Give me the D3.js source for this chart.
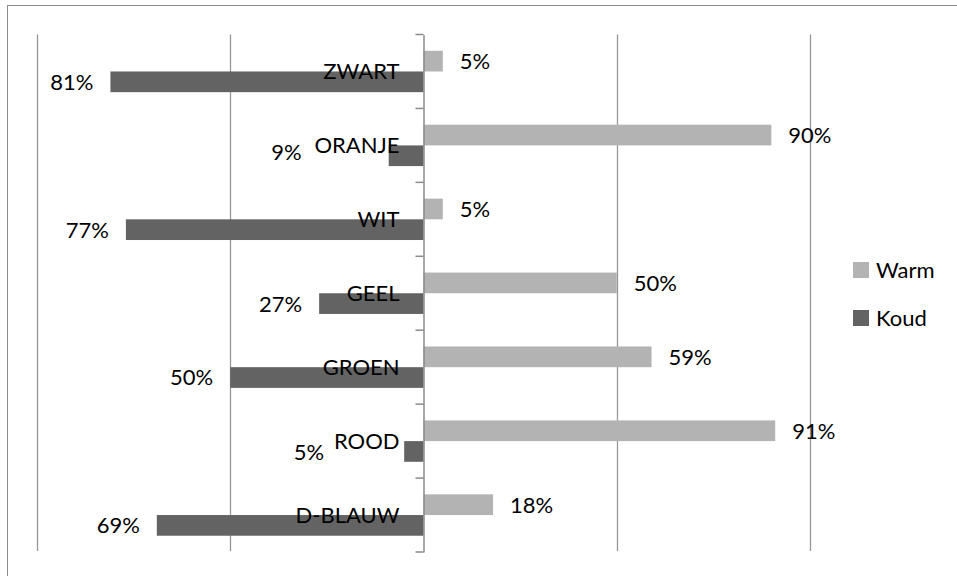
<!DOCTYPE html>
<html>
<head>
<meta charset="utf-8">
<script src="https://cdn.jsdelivr.net/npm/d3@7/dist/d3.min.js"></script>
<style>
  html, body { margin: 0; padding: 0; background: #fff; }
  svg { display: block; }
  text { font-family: Lato, "Open Sans", sans-serif; font-size: 22px; fill: #000; }
</style>
</head>
<body>
<svg id="chart" width="957" height="576"></svg>
<script>
// Colour preference per colour: share answering "warm" vs "koud" (cold)
const categories = ["ZWART", "ORANJE", "WIT", "GEEL", "GROEN", "ROOD", "D-BLAUW"];
const warm = [5, 90, 5, 50, 59, 91, 18];
const koud = [81, 9, 77, 27, 50, 5, 69];
const seriesNames = ["Warm", "Koud"];
const xTicks = [-100, -50, 0, 50, 100];

const colors = { Warm: "#b3b3b3", Koud: "#636363" };

const svg = d3.select("#chart");

// chart frame
svg.append("rect")
  .attr("x", 7.5).attr("y", 5.5)
  .attr("width", 1000).attr("height", 1000)
  .attr("fill", "none").attr("stroke", "#8c8c8c").attr("stroke-width", 1);

const x = d3.scaleLinear().domain([-100, 100]).range([37, 810]);
const y = d3.scaleBand().domain(categories).range([34.5, 552]).padding(0);
const barH = y.bandwidth() * 0.28;

// vertical gridlines
svg.append("g").selectAll("line")
  .data(xTicks.filter(t => t !== 0))
  .join("line")
  .attr("x1", d => Math.round(x(d)) + 0.5).attr("x2", d => Math.round(x(d)) + 0.5)
  .attr("y1", 34.5).attr("y2", 551)
  .attr("stroke", "#989898").attr("stroke-width", 1.3);

const rows = categories.map((c, i) => ({ cat: c, warm: warm[i], koud: koud[i] }));

// warm bars to the right of the axis
svg.append("g").selectAll("rect")
  .data(rows)
  .join("rect")
  .attr("x", x(0))
  .attr("y", d => y(d.cat) + y.bandwidth() / 2 - barH)
  .attr("width", d => x(d.warm) - x(0))
  .attr("height", barH)
  .attr("fill", colors.Warm);

// cold bars to the left of the axis
svg.append("g").selectAll("rect")
  .data(rows)
  .join("rect")
  .attr("x", d => x(-d.koud))
  .attr("y", d => y(d.cat) + y.bandwidth() / 2)
  .attr("width", d => x(0) - x(-d.koud))
  .attr("height", barH)
  .attr("fill", colors.Koud);

// central category axis with ticks at the band edges
const axis = d3.axisLeft(y).tickSize(0).tickFormat("");
const axisG = svg.append("g").attr("transform", `translate(${x(0)},0)`).call(axis);
axisG.select(".domain").attr("stroke", "#8a8a8a").attr("stroke-width", 1.5);
const edges = categories.map(c => y(c)).concat([y.range()[1]]);
axisG.selectAll(".edge")
  .data(edges)
  .join("line")
  .attr("class", "edge")
  .attr("x1", -8).attr("x2", 0)
  .attr("y1", d => d).attr("y2", d => d)
  .attr("stroke", "#8a8a8a").attr("stroke-width", 1.5);

// category names, right-aligned just left of the axis
svg.append("g").selectAll("text")
  .data(categories)
  .join("text")
  .attr("x", x(0) - 24)
  .attr("y", d => y(d) + y.bandwidth() / 2)
  .attr("dy", "0.36em")
  .attr("text-anchor", "end")
  .text(d => d);

const pct = d => d + "%";

// value labels
svg.append("g").selectAll("text")
  .data(rows)
  .join("text")
  .attr("x", d => x(d.warm) + 17)
  .attr("y", d => y(d.cat) + y.bandwidth() / 2 - barH / 2)
  .attr("dy", "0.36em")
  .text(d => pct(d.warm));

// short cold bars get their label moved clear of the category name
const koudShift = { ORANJE: [-70, -4], ROOD: [-63, 1] };
svg.append("g").selectAll("text")
  .data(rows)
  .join("text")
  .attr("x", d => x(-d.koud) - 17 + (koudShift[d.cat] ? koudShift[d.cat][0] : 0))
  .attr("y", d => y(d.cat) + y.bandwidth() / 2 + barH / 2 + (koudShift[d.cat] ? koudShift[d.cat][1] : 0))
  .attr("dy", "0.36em")
  .attr("text-anchor", "end")
  .text(d => pct(d.koud));

// legend
const legend = svg.append("g").selectAll("g")
  .data(seriesNames)
  .join("g")
  .attr("transform", (d, i) => `translate(853,${262 + i * 48})`);
legend.append("rect")
  .attr("width", 16).attr("height", 16)
  .attr("fill", d => colors[d]);
legend.append("text")
  .attr("x", 23).attr("y", 8)
  .attr("dy", "0.36em")
  .text(d => d);
</script>
</body>
</html>
